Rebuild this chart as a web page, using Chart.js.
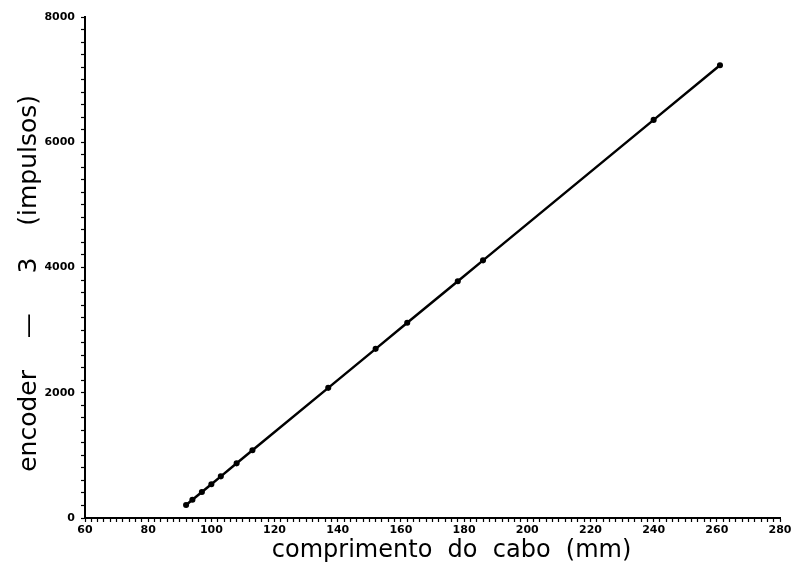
<!DOCTYPE html>
<html>
<head>
<meta charset="utf-8">
<script src="https://cdn.jsdelivr.net/npm/chart.js@4/dist/chart.umd.min.js"></script>
<style>
html,body{margin:0;padding:0;background:#fff;}
#wrap{width:798px;height:578px;position:relative;}
</style>
</head>
<body>
<div id="wrap"><canvas id="c" width="798" height="578"></canvas></div>
<script>
const cableLength = [92, 94, 97, 100, 103, 108, 113, 137, 152, 162, 178, 186, 240, 261];
const encoderPulses = [208, 291, 416, 540, 665, 873, 1081, 2078, 2701, 3117, 3781, 4114, 6357, 7230];
const xTickLabels = [60, 80, 100, 120, 140, 160, 180, 200, 220, 240, 260, 280];
const yTickLabels = [0, 2000, 4000, 6000, 8000];
const xTitle = '     comprimento  do  cabo  (mm)';
const yTitle = 'encoder    —     3    (impulsos)    ';

const points = cableLength.map((x, i) => ({x: x, y: encoderPulses[i]}));

new Chart(document.getElementById('c'), {
  type: 'scatter',
  data: {
    datasets: [{
      data: points,
      showLine: true,
      borderColor: '#000',
      backgroundColor: '#000',
      borderWidth: 2.5,
      pointRadius: 1.8,
      pointHoverRadius: 1.8,
      tension: 0
    }]
  },
  options: {
    responsive: false,
    animation: false,
    events: [],
    layout: {padding: {top: 17, right: 18, left: 10, bottom: 13}},
    plugins: {legend: {display: false}, tooltip: {enabled: false}},
    scales: {
      x: {
        type: 'linear',
        min: 60, max: 280,
        afterFit: s => { s.height = 47; },
        ticks: {
          stepSize: 2,
          autoSkip: false,
          maxRotation: 0,
          padding: 2,
          color: '#000',
          font: {family: 'DejaVu Sans', size: 11, weight: 'bold'},
          callback: v => xTickLabels.includes(v) ? String(v) : ''
        },
        grid: {drawOnChartArea: false, drawTicks: true, tickLength: 4, tickColor: '#000', tickWidth: 1.2},
        border: {display: true, color: '#000', width: 2},
        title: {
          display: true, text: xTitle, color: '#000',
          font: {family: 'DejaVu Sans', size: 24},
          padding: {top: 0, bottom: 0}
        }
      },
      y: {
        type: 'linear',
        min: 0, max: 8000,
        afterFit: s => { s.width = 75; },
        ticks: {
          stepSize: 200,
          autoSkip: false,
          padding: 6,
          color: '#000',
          font: {family: 'DejaVu Sans', size: 11, weight: 'bold'},
          callback: v => yTickLabels.includes(v) ? String(v) : ''
        },
        grid: {drawOnChartArea: false, drawTicks: true, tickLength: 4, tickColor: '#000', tickWidth: 1.2},
        border: {display: true, color: '#000', width: 2},
        title: {
          display: true, text: yTitle, color: '#000',
          font: {family: 'DejaVu Sans', size: 25},
          padding: {top: 4, bottom: 4}
        }
      }
    }
  }
});
</script>
</body>
</html>
